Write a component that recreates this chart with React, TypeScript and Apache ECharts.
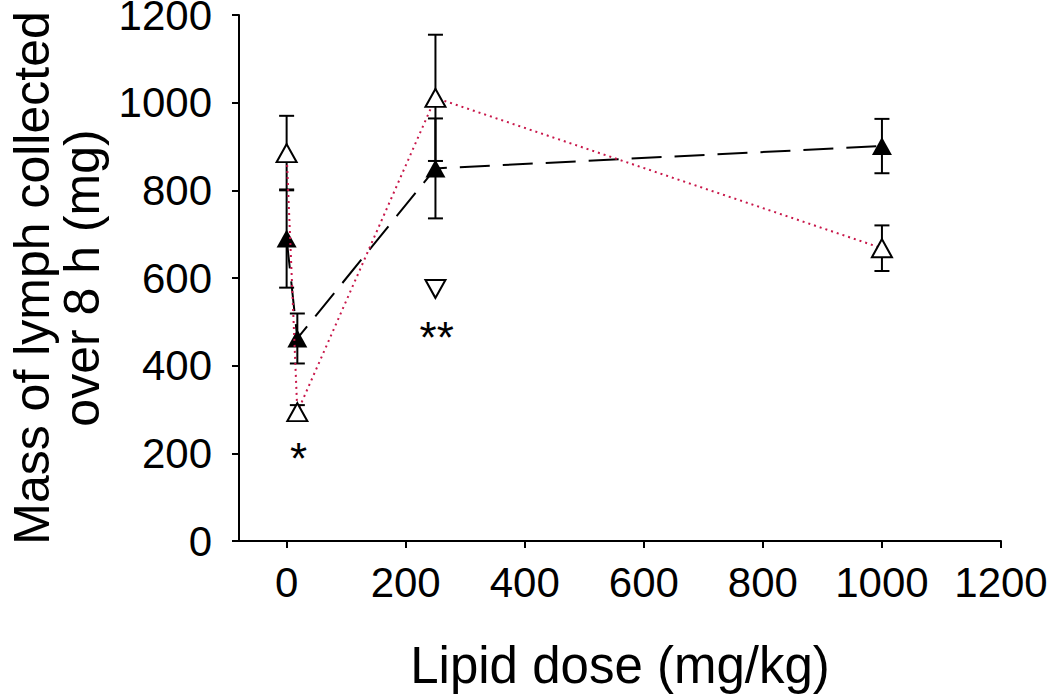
import React, { useEffect, useRef } from "react";
import * as echarts from "echarts";

// Lipid dose (mg/kg)
const doses = [0, 18, 250, 1000];
// Filled triangles (black dashed line)
const filledMean = [690, 462, 850, 901];
const filledErr = [112, 57, 114, 62];
// Open triangles (red dotted line)
const openMean = [885, 294, 1011, 668];
const openErr = [85, 16, 144, 52];
// Open inverted triangle
const invDose = [250];
const invValue = [575];
// Significance marks
const markText = ["*", "**"];
const markDose = [20, 252];
const markValue = [189, 465];
// Axis ticks
const xTicks = [0, 200, 400, 600, 800, 1000, 1200];

const FONT = "'Liberation Sans', Arial, Helvetica, sans-serif";

export default function App() {
  const ref = useRef<HTMLDivElement>(null);
  useEffect(() => {
    if (!ref.current) return;
    const chart = echarts.init(ref.current, undefined, { renderer: "svg" });

    const errData = [
      ...doses.map((d, i) => [d, filledMean[i] - filledErr[i], filledMean[i] + filledErr[i]]),
      ...doses.map((d, i) => [d, openMean[i] - openErr[i], openMean[i] + openErr[i]]),
    ];

    const renderErr = (params: any, api: any) => {
      const x = api.value(0);
      const lo = api.coord([x, api.value(1)]);
      const hi = api.coord([x, api.value(2)]);
      const w = 7.5;
      const st = { stroke: "#000", lineWidth: 2 };
      return {
        type: "group",
        children: [
          { type: "line", shape: { x1: lo[0], y1: lo[1], x2: hi[0], y2: hi[1] }, style: st },
          { type: "line", shape: { x1: lo[0] - w, y1: lo[1], x2: lo[0] + w, y2: lo[1] }, style: st },
          { type: "line", shape: { x1: hi[0] - w, y1: hi[1], x2: hi[0] + w, y2: hi[1] }, style: st },
        ],
      };
    };

    chart.setOption({
      animation: false,
      backgroundColor: "#fff",
      grid: { left: 239, right: 49, top: 15, bottom: 153, containLabel: false, outerBoundsMode: "none" },
      xAxis: {
        type: "value",
        min: -80,
        max: 1200,
        name: "Lipid dose (mg/kg)",
        nameLocation: "middle",
        nameGap: 99,
        nameMoveOverlap: false,
        nameTextStyle: { fontSize: 51, color: "#000", fontFamily: FONT },
        axisLine: { show: true, onZero: false, lineStyle: { color: "#000", width: 2 } },
        axisTick: { show: true, length: 7, lineStyle: { color: "#000", width: 2 }, customValues: xTicks },
        axisLabel: {
          fontSize: 42,
          color: "#000",
          fontFamily: FONT,
          margin: 20,
          customValues: xTicks,
          formatter: (v: number) => String(v),
        },
        splitLine: { show: false },
      },
      yAxis: {
        type: "value",
        min: 0,
        max: 1200,
        interval: 200,
        name: "Mass of lymph collected\nover 8 h (mg)",
        nameLocation: "middle",
        nameRotate: 90,
        nameGap: 132,
        nameMoveOverlap: false,
        nameTextStyle: { fontSize: 50, color: "#000", fontFamily: FONT, lineHeight: 50 },
        axisLine: { show: true, onZero: false, lineStyle: { color: "#000", width: 2 } },
        axisTick: { show: true, length: 7, lineStyle: { color: "#000", width: 2 } },
        axisLabel: {
          fontSize: 42,
          lineHeight: 30,
          color: "#000",
          fontFamily: FONT,
          margin: 27,
          formatter: (v: number) => String(v),
        },
        splitLine: { show: false },
      },
      series: [
        {
          type: "custom",
          renderItem: renderErr,
          encode: { x: 0, y: [1, 2] },
          data: errData,
          z: 1,
        },
        {
          type: "line",
          data: doses.map((d, i) => [d, filledMean[i]]),
          symbol: "triangle",
          symbolSize: [20, 18],
          itemStyle: { color: "#000" },
          lineStyle: { color: "#000", width: 2, type: [30, 13] },
          z: 3,
        },
        {
          type: "line",
          data: doses.map((d, i) => [d, openMean[i]]),
          symbol: "triangle",
          symbolSize: [20, 18],
          itemStyle: { color: "#fff", borderColor: "#000", borderWidth: 2 },
          lineStyle: { color: "#c8174a", width: 2, type: [2, 4] },
          z: 4,
        },
        {
          type: "scatter",
          data: invDose.map((d, i) => [d, invValue[i]]),
          symbol: "triangle",
          symbolRotate: 180,
          symbolSize: [20, 18],
          itemStyle: { color: "#fff", borderColor: "#000", borderWidth: 2, opacity: 1 },
          z: 4,
        },
        {
          type: "scatter",
          data: markText.map((t, i) => ({ name: t, value: [markDose[i], markValue[i]] })),
          symbolSize: 0,
          itemStyle: { opacity: 1 },
          label: {
            show: true,
            position: "inside",
            formatter: (p: any) => p.name,
            fontSize: 44,
            color: "#000",
            opacity: 1,
            fontFamily: FONT,
          },
          z: 5,
        },
      ],
    });
    return () => chart.dispose();
  }, []);
  return (
    <div
      ref={ref}
      style={{ position: "fixed", left: 0, top: 0, width: 1050, height: 694 }}
    />
  );
}
